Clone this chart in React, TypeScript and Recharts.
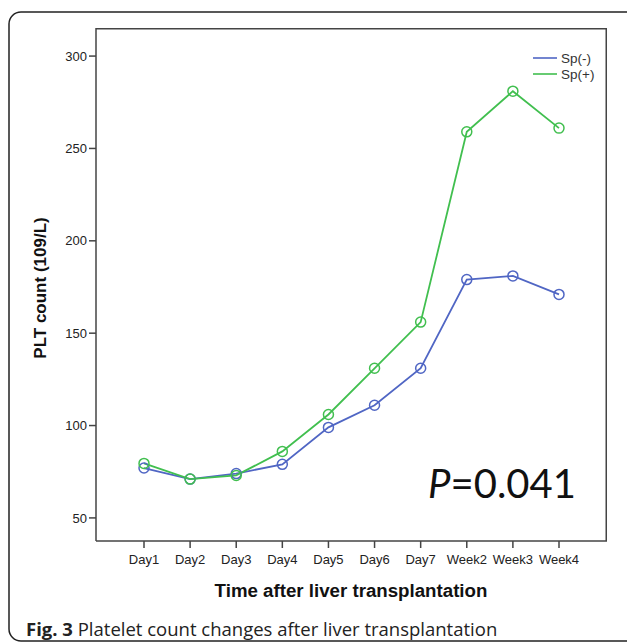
import React from 'react';
import { LineChart, Line, XAxis, YAxis } from 'recharts';

const categories = ['Day1', 'Day2', 'Day3', 'Day4', 'Day5', 'Day6', 'Day7', 'Week2', 'Week3', 'Week4'];
const spMinus = [77, 71, 74, 79, 99, 111, 131, 179, 181, 171];
const spPlus = [79.5, 71, 73, 86, 106, 131, 156, 259, 281, 261];
const yTicks = [50, 100, 150, 200, 250, 300];
const seriesNames = ['Sp(-)', 'Sp(+)'];

const data = categories.map((c, i) => ({ name: c, minus: spMinus[i], plus: spPlus[i] }));

const BLUE = '#5066c4';
const GREEN = '#41bf4f';
const AXIS = '#444';
const FONT = '"Liberation Sans", Arial, sans-serif';
const DOMAIN: [number, number] = [37.5, 315.2];

const Hollow = (color: string) => (props: any) => {
  const { cx, cy, key } = props;
  if (cx == null || cy == null) return <g key={key} />;
  return <circle key={key} cx={cx} cy={cy} r={5} fill="none" stroke={color} strokeWidth={1.5} />;
};

export default function App() {
  const colors = [BLUE, GREEN];
  return (
    <div style={{ position: 'absolute', left: 0, top: 0, width: 627, height: 643, background: '#fff', overflow: 'hidden' }}>
      <div style={{ position: 'absolute', left: 0, top: 0 }}>
        <LineChart width={627} height={643} data={data} margin={{ top: 28, right: 20, bottom: 72, left: 46 }}>
          <XAxis
            dataKey="name"
            type="category"
            padding={{ left: 48, right: 48 }}
            height={30}
            tickSize={7}
            tickMargin={7}
            axisLine={{ stroke: AXIS, strokeWidth: 1.5 }}
            tickLine={{ stroke: AXIS, strokeWidth: 1.5 }}
            tick={{ fontSize: 13, fontFamily: FONT, fill: '#222' }}
            interval={0}
          />
          <YAxis
            type="number"
            domain={DOMAIN}
            ticks={yTicks}
            allowDataOverflow
            width={50}
            tickSize={7}
            axisLine={{ stroke: AXIS, strokeWidth: 1.5 }}
            tickLine={{ stroke: AXIS, strokeWidth: 1.5 }}
            tick={{ fontSize: 13, fontFamily: FONT, fill: '#222' }}
          />
          <Line type="linear" dataKey="minus" name={seriesNames[0]} stroke={BLUE} strokeWidth={1.8}
            dot={Hollow(BLUE)} activeDot={false} isAnimationActive={false} />
          <Line type="linear" dataKey="plus" name={seriesNames[1]} stroke={GREEN} strokeWidth={1.8}
            dot={Hollow(GREEN)} activeDot={false} isAnimationActive={false} />
        </LineChart>
      </div>
      <svg width={627} height={643} style={{ position: 'absolute', left: 0, top: 0, pointerEvents: 'none' }}>
        <rect x={9} y={12} width={640} height={629} rx={12} ry={12} fill="none" stroke="#222" strokeWidth={1.5} />
        <path d="M96 28.75 H606.25 V541" fill="none" stroke={AXIS} strokeWidth={1.5} />
        <text x={40} y={288} transform="rotate(-90 40 288)" textAnchor="middle" dominantBaseline="central"
          fontFamily={FONT} fontWeight="bold" fontSize={17} fill="#111">
          PLT count (109/L)
        </text>
        <text x={351} y={590} textAnchor="middle" dominantBaseline="central"
          fontFamily={FONT} fontWeight="bold" fontSize={18.7} fill="#111">
          Time after liver transplantation
        </text>
        <text x={26} y={628} dominantBaseline="central" fontFamily='"Open Sans", sans-serif' fontSize={18.5} fill="#222">
          <tspan fontWeight="bold">Fig. 3</tspan>
          <tspan> Platelet count changes after liver transplantation</tspan>
        </text>
        <text x={428} y={498} fontFamily='Lato, "Open Sans", sans-serif' fontSize={40} fill="#111">
          <tspan fontStyle="italic">P</tspan>
          <tspan>=0.041</tspan>
        </text>
        {colors.map((c, i) => (
          <g key={i}>
            <line x1={533} x2={557} y1={58 + i * 16} y2={58 + i * 16} stroke={c} strokeWidth={1.6} />
            <text x={561} y={58 + i * 16} dy="0.35em" fontSize={13.5} fontFamily={FONT} fill="#333">
              {seriesNames[i]}
            </text>
          </g>
        ))}
      </svg>
    </div>
  );
}
